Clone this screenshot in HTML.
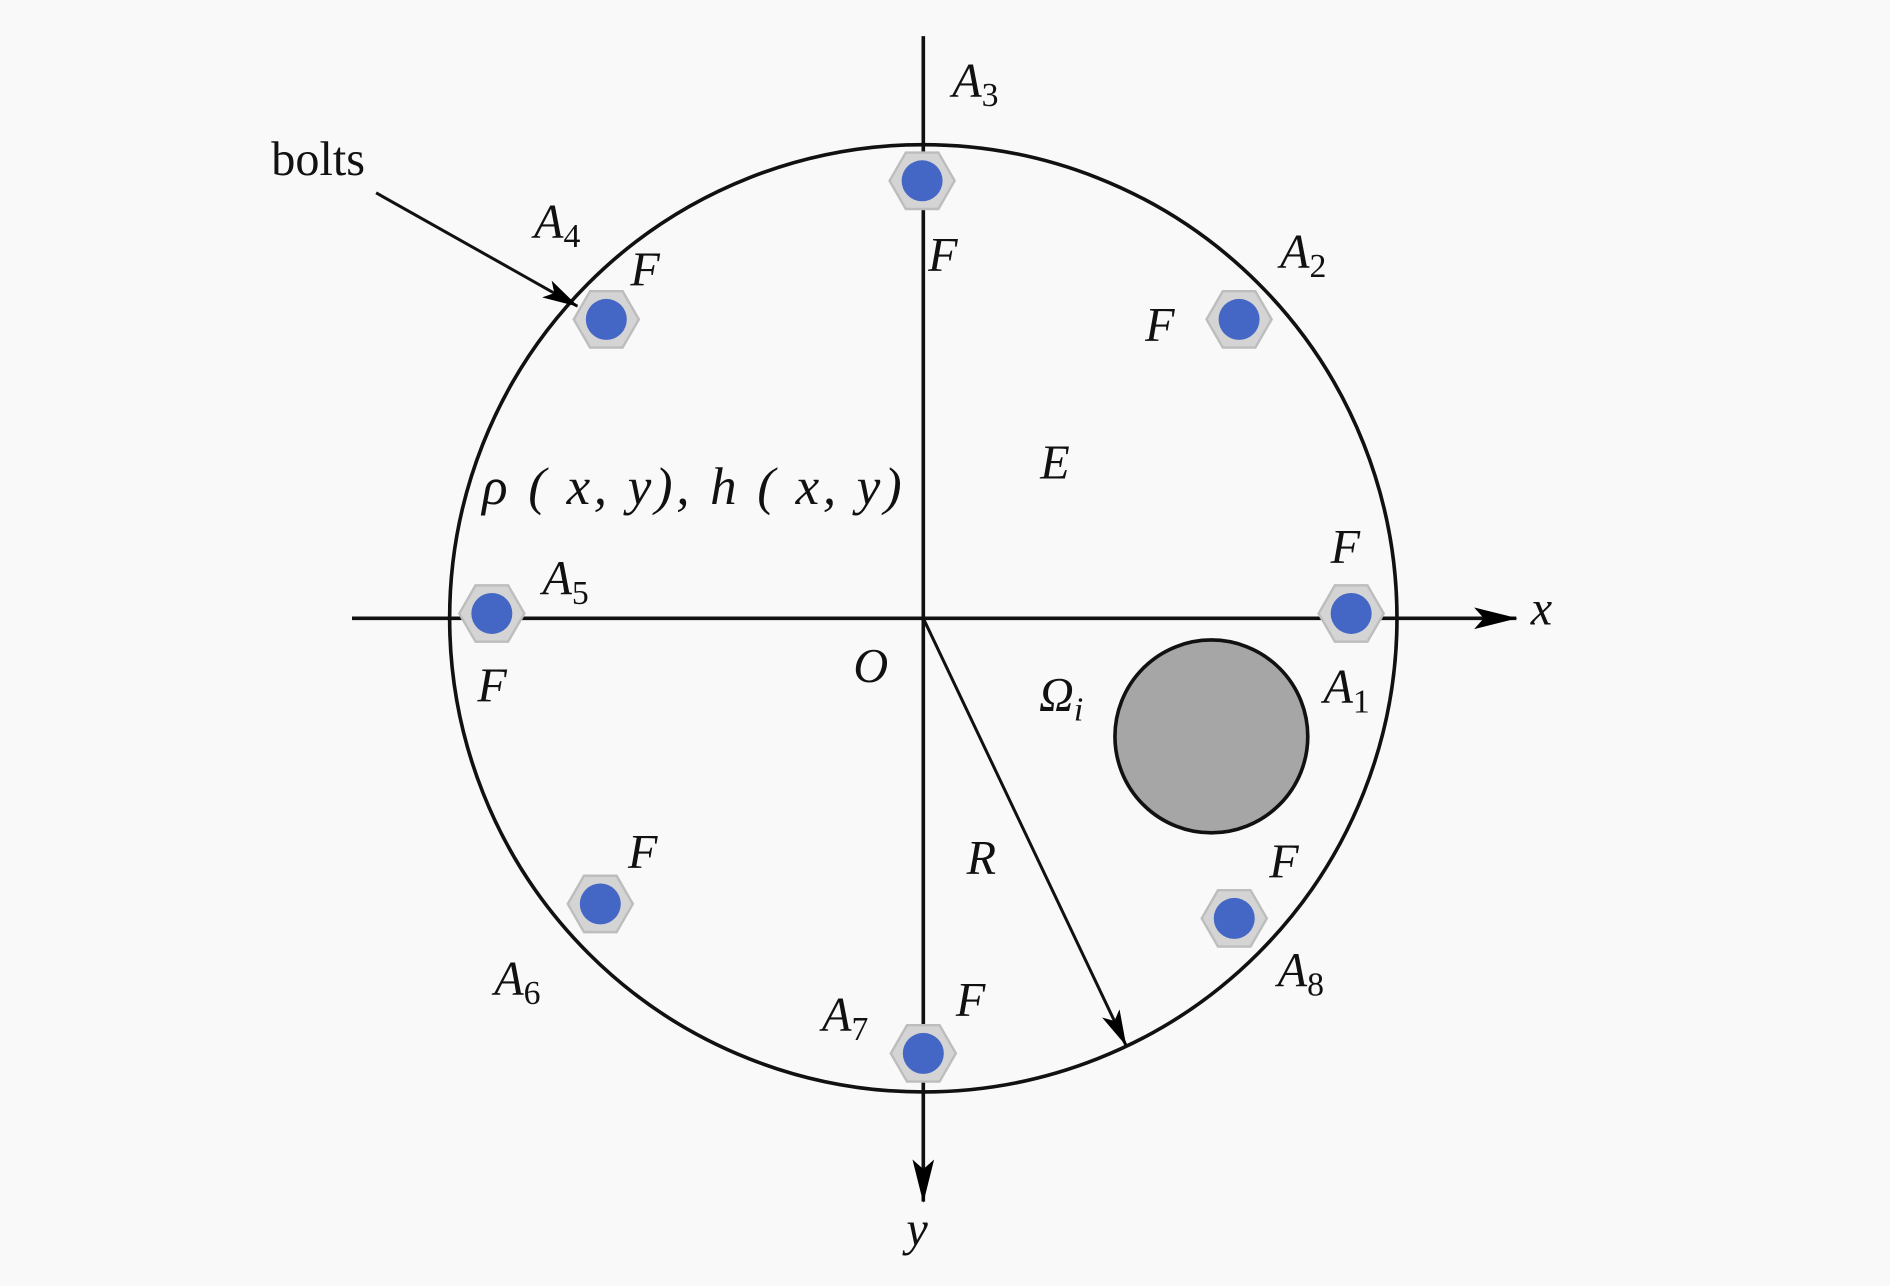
<!DOCTYPE html>
<html><head><meta charset="utf-8"><style>
html,body{margin:0;padding:0;background:#f9f9f9;}
svg{display:block;}
text{font-family:"Liberation Serif",serif;font-style:italic;fill:#111;}
tspan.s{font-style:normal;}
</style></head><body>
<svg width="1890" height="1286" viewBox="0 0 1568 1067" xmlns="http://www.w3.org/2000/svg">
<defs>
<marker id="ar" viewBox="0 0 36 18" refX="35" refY="9" markerWidth="36" markerHeight="18" markerUnits="userSpaceOnUse" orient="auto">
<path d="M0,0 L36,9 L0,18 L8,9 Z" fill="#000"/></marker>
<marker id="ar2" viewBox="0 0 30 16" refX="29" refY="8" markerWidth="30" markerHeight="16" markerUnits="userSpaceOnUse" orient="auto">
<path d="M0,0 L30,8 L0,16 L7,8 Z" fill="#000"/></marker>
<g id="bolt">
<polygon points="27,0 13.5,23.4 -13.5,23.4 -27,0 -13.5,-23.4 13.5,-23.4" fill="#d4d4d4" stroke="#bdbdbd" stroke-width="2"/>
<circle r="17" fill="#4466c4"/></g>
</defs>
<rect width="1568" height="1067" fill="#f9f9f9"/>
<circle cx="766" cy="513" r="393" fill="none" stroke="#111" stroke-width="3"/>
<line x1="766" y1="30" x2="766" y2="997" stroke="#111" stroke-width="3" marker-end="url(#ar)"/>
<line x1="292" y1="513" x2="1258" y2="513" stroke="#111" stroke-width="3" marker-end="url(#ar)"/>
<line x1="766" y1="513" x2="934" y2="867" stroke="#111" stroke-width="2.5" marker-end="url(#ar2)"/>
<line x1="312" y1="160" x2="479" y2="254" stroke="#111" stroke-width="2.5" marker-end="url(#ar2)"/>
<circle cx="1005" cy="611" r="80" fill="#a6a6a6" stroke="#111" stroke-width="3"/>
<use href="#bolt" x="765" y="150"/>
<use href="#bolt" x="1028" y="265"/>
<use href="#bolt" x="1121" y="509"/>
<use href="#bolt" x="1024" y="762"/>
<use href="#bolt" x="766" y="874"/>
<use href="#bolt" x="498" y="750"/>
<use href="#bolt" x="408" y="509"/>
<use href="#bolt" x="503" y="265"/>
<g font-size="40">
<text x="225" y="145" style="font-style:normal">bolts</text>
<text x="790" y="80">A<tspan class="s" font-size="28" dy="8">3</tspan></text>
<text x="1062" y="222">A<tspan class="s" font-size="28" dy="8">2</tspan></text>
<text x="443" y="197">A<tspan class="s" font-size="28" dy="8">4</tspan></text>
<text x="450" y="493">A<tspan class="s" font-size="28" dy="8">5</tspan></text>
<text x="1098" y="583">A<tspan class="s" font-size="28" dy="8">1</tspan></text>
<text x="1060" y="818">A<tspan class="s" font-size="28" dy="8">8</tspan></text>
<text x="682" y="855">A<tspan class="s" font-size="28" dy="8">7</tspan></text>
<text x="410" y="825">A<tspan class="s" font-size="28" dy="8">6</tspan></text>
<text x="770" y="225">F</text>
<text x="523" y="237">F</text>
<text x="950" y="283">F</text>
<text x="1104" y="467">F</text>
<text x="396" y="582">F</text>
<text x="1053" y="728">F</text>
<text x="521" y="720">F</text>
<text x="793" y="843">F</text>
<text x="863" y="397">E</text>
<text x="708" y="566">O</text>
<text x="802" y="725">R</text>
<text x="1270" y="518">x</text>
<text x="752" y="1033">y</text>
<text x="862" y="590">Ω<tspan font-size="28" dy="8">i</tspan></text>
<text x="400" y="418" font-size="44" textLength="348" lengthAdjust="spacing">ρ ( x, y), h ( x, y)</text>
</g>
</svg>
</body></html>
